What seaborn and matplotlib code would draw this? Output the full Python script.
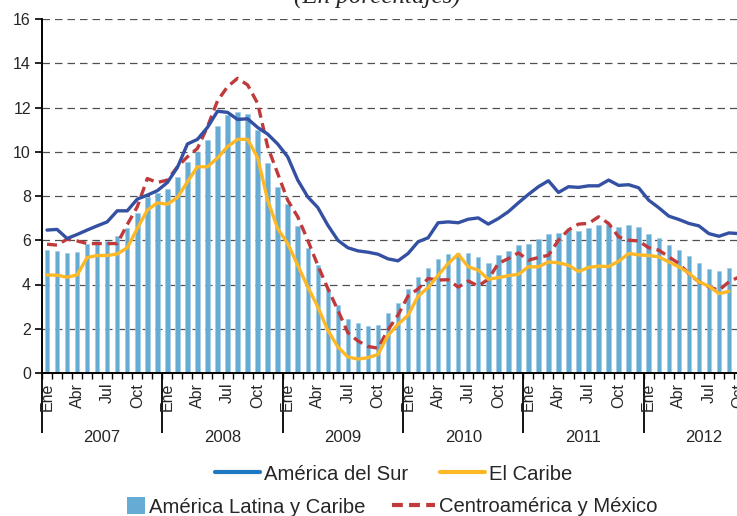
"""
Desempleo urbano: America Latina y subregiones, 2007-2012 (promedios moviles).
"""

import matplotlib
matplotlib.use("Agg")
import matplotlib.pyplot as plt
import matplotlib.transforms as mtransforms
from matplotlib.lines import Line2D
from matplotlib.patches import Patch
import numpy as np
import pandas as pd
import seaborn as sns

years = ["2007", "2008", "2009", "2010", "2011", "2012"]
month_names = ["Ene", "Abr", "Jul", "Oct"]

# Enero 2007 - Octubre 2012
america_latina = [
    5.58, 5.53, 5.43, 5.48, 5.85, 5.97, 5.96, 6.18, 6.56, 7.21, 7.96, 8.14,
    8.31, 8.84, 9.55, 10.0, 10.53, 11.17, 11.66, 11.8, 11.7, 11.0, 9.48, 8.42,
    7.64, 6.65, 5.65, 4.9, 3.81, 3.07, 2.43, 2.27, 2.13, 2.18, 2.72, 3.16,
    3.8, 4.35, 4.74, 5.14, 5.38, 5.43, 5.44, 5.24, 4.99, 5.32, 5.52, 5.78,
    5.82, 6.06, 6.27, 6.32, 6.46, 6.41, 6.56, 6.67, 6.75, 6.58, 6.67, 6.58,
    6.27, 6.08, 5.78, 5.54, 5.28, 4.95, 4.69, 4.6, 4.74, 4.8,
]
america_sur = [
    6.46, 6.49, 6.08, 6.26, 6.46, 6.65, 6.83, 7.33, 7.33, 7.86, 8.04, 8.24,
    8.61, 9.29, 10.35, 10.56, 11.1, 11.83, 11.78, 11.46, 11.49, 11.1, 10.8, 10.35,
    9.77, 8.72, 7.96, 7.48, 6.68, 6.0, 5.66, 5.52, 5.46, 5.37, 5.16, 5.07,
    5.4, 5.93, 6.11, 6.79, 6.83, 6.79, 6.95, 7.01, 6.73, 6.98, 7.29, 7.69,
    8.07, 8.42, 8.69, 8.16, 8.42, 8.39, 8.46, 8.46, 8.72, 8.48, 8.51, 8.37,
    7.81, 7.47, 7.09, 6.94, 6.76, 6.65, 6.3, 6.18, 6.33, 6.3,
]
el_caribe = [
    4.43, 4.42, 4.33, 4.43, 5.22, 5.31, 5.31, 5.38, 5.66, 6.53, 7.36, 7.69,
    7.63, 7.93, 8.64, 9.32, 9.32, 9.72, 10.23, 10.56, 10.56, 9.74, 7.81, 6.53,
    5.85, 4.87, 3.89, 2.99, 1.93, 1.18, 0.72, 0.63, 0.69, 0.84, 1.7, 2.2,
    2.61, 3.47, 3.86, 4.42, 4.95, 5.37, 4.8, 4.65, 4.24, 4.31, 4.4, 4.46,
    4.8, 4.8, 5.02, 4.98, 4.87, 4.59, 4.77, 4.83, 4.81, 5.05, 5.4, 5.34,
    5.31, 5.25, 5.02, 4.8, 4.52, 4.12, 3.92, 3.59, 3.69,
]
centroamerica = [
    5.82, 5.78, 6.05, 5.97, 5.85, 5.85, 5.85, 5.85, 6.71, 7.51, 8.79, 8.61,
    8.72, 9.32, 9.77, 10.15, 11.13, 12.3, 12.94, 13.32, 13.02, 12.19, 10.23, 9.02,
    7.81, 7.06, 6.0, 4.87, 3.82, 2.84, 1.82, 1.45, 1.2, 1.12, 1.95, 2.62,
    3.48, 3.8, 4.27, 4.2, 4.22, 3.88, 4.16, 3.93, 4.24, 4.95, 5.17, 5.43,
    5.1, 5.22, 5.32, 6.0, 6.47, 6.73, 6.76, 7.06, 6.76, 6.15, 6.0, 5.97,
    5.66, 5.55, 5.25, 4.95, 4.49, 4.12, 3.89, 3.74, 4.12, 4.34,
]

col_latina = "#66ABD4"
col_sur = "#3350A3"
col_sur_leyenda = "#1E78C2"
col_caribe = "#FDB827"
col_centro = "#C03A3C"
col_texto = "#262626"

sns.set_theme(style="white")
plt.rcParams["font.family"] = ["Liberation Sans", "DejaVu Sans"]

fig = plt.figure(figsize=(7.37, 5.16), dpi=100)
ax = fig.add_axes([42 / 737, 143 / 516, 702 / 737, 354 / 516])

df_bar = pd.DataFrame({"mes": np.arange(len(america_latina)), "valor": america_latina})
sns.barplot(data=df_bar, x="mes", y="valor", native_scale=True, width=0.45,
            color=col_latina, saturation=1, errorbar=None, edgecolor="#9CCAE6",
            linewidth=0.4, ax=ax)

dash = (0, (3.0, 1.7))
sns.lineplot(x=np.arange(len(centroamerica)), y=centroamerica, color=col_centro,
             lw=2.4, linestyle=dash, ax=ax)
sns.lineplot(x=np.arange(len(el_caribe)), y=el_caribe, color=col_caribe, lw=2.4, ax=ax)
sns.lineplot(x=np.arange(len(america_sur)), y=america_sur, color=col_sur, lw=2.4, ax=ax)

ax.set_xlim(-0.5, 69.5)
ax.set_ylim(0, 16)
ax.set_xlabel("")
ax.set_ylabel("")

ax.set_yticks(np.arange(0, 17, 2))
ax.yaxis.grid(True, linestyle=(0, (6, 4)), color="#505050", lw=0.9)
ax.set_axisbelow(True)
for s in ["top", "right"]:
    ax.spines[s].set_visible(False)
for s in ["left", "bottom"]:
    ax.spines[s].set_color("black")
    ax.spines[s].set_linewidth(1.4)
ax.tick_params(axis="y", left=True, length=5, width=1.2, color="black",
               labelsize=11.5, labelcolor=col_texto, pad=3)

# etiquetas de meses
label_pos = [12 * k + m for k in range(len(years)) for m in (0, 3, 6, 9)]
label_txt = [month_names[i % 4] for i in range(len(label_pos))]
ax.set_xticks(label_pos)
ax.set_xticklabels(label_txt, rotation=90)
ax.tick_params(axis="x", which="major", length=0, pad=7, labelsize=11.5,
               labelcolor=col_texto)
ax.set_xticks(np.arange(-0.5, 70, 1), minor=True)
ax.tick_params(axis="x", which="minor", bottom=True, length=4, width=1, color="black")

# separadores de anios
sec = ax.secondary_xaxis("bottom")
sec.set_xticks(np.arange(-0.5, 72, 12))
sec.set_xticklabels([])
sec.tick_params(length=43, width=1.3, color="black")
sec.spines["bottom"].set_visible(False)

trans = mtransforms.blended_transform_factory(ax.transData, ax.transAxes)
for k, y in enumerate(years):
    ax.text(5.5 + 12 * k, -0.181, y, transform=trans, ha="center", va="center",
            fontsize=12, color=col_texto)

fig.text(377 / 737, 1 - 9 / 516, "(En porcentajes)", ha="center", va="bottom",
         fontsize=18, style="italic", family=["Liberation Serif", "DejaVu Serif"],
         color=col_texto)

# leyenda
kw = dict(frameon=False, fontsize=14.6, borderpad=0, labelcolor=col_texto,
          handletextpad=0.2, borderaxespad=0)
h_sur = Line2D([], [], color=col_sur_leyenda, lw=3)
h_car = Line2D([], [], color=col_caribe, lw=3)
h_lat = Patch(facecolor=col_latina, edgecolor="none")
h_cen = Line2D([], [], color=col_centro, lw=3, linestyle=(0, (2.6, 1.5)))

leg1 = fig.legend([h_sur, h_car], ["América del Sur", "El Caribe"], ncol=2,
                  loc="center left", bbox_to_anchor=(215 / 737, 42 / 516),
                  handlelength=2.2, columnspacing=1.6, **kw)
leg2 = fig.legend([h_lat], ["América Latina y Caribe"], loc="center left",
                  bbox_to_anchor=(127 / 737, 9 / 516), handlelength=0.9,
                  handleheight=0.9, **kw)
leg3 = fig.legend([h_cen], ["Centroamérica y México"], loc="center left",
                  bbox_to_anchor=(392 / 737, 9 / 516), handlelength=2.1, **kw)

fig.savefig("out.png", dpi=100)
